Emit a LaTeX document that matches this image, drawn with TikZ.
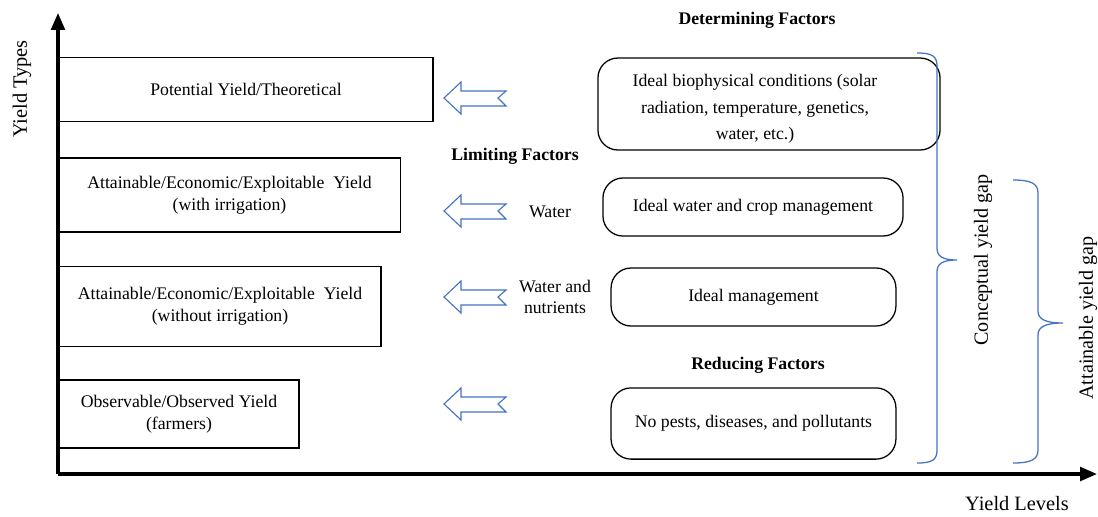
\documentclass[tikz,border=0pt]{standalone}
\usepackage{fontspec}
\setmainfont{Liberation Serif}
\usetikzlibrary{arrows.meta}

\definecolor{gapblue}{RGB}{68,114,196}

\begin{document}
\begin{tikzpicture}[x=0.025cm,y=-0.025cm,
  every node/.style={font=\fontsize{12.6}{15.5}\selectfont,align=center},
  yieldbox/.style={draw,line width=0.8pt,inner sep=0pt},
  factorbox/.style={draw,rounded corners=0.5cm,line width=0.9pt,inner sep=0pt},
  head/.style={font=\fontsize{12.6}{15.5}\selectfont\bfseries},
  axislabel/.style={font=\fontsize{14.5}{17}\selectfont},
  gaplabel/.style={rotate=90,font=\fontsize{14.3}{17}\selectfont},
  gap/.style={draw=gapblue,line width=0.9pt},
  hollow/.pic={\draw[gapblue,line width=0.8pt,line join=miter]
    (0,0) -- (17,-16) -- (17,-7) -- (62,-7) -- (54,0) -- (62,8) -- (17,8) -- (17,16) -- cycle;},
]
\useasboundingbox (0,0) rectangle (1098,516);
% axes
\coordinate (o) at (58,474); \coordinate (ytop) at (58,13); \coordinate (xend) at (1097,474);
\draw[line width=2.2pt,-{Triangle[length=0.42cm,width=0.34cm]}] (o) -- (ytop);
\draw[line width=2.2pt,-{Triangle[length=0.42cm,width=0.34cm]}] (o) -- (xend);
\node[axislabel,rotate=90] (types) at (22,89) {Yield Types};
\node[axislabel] (levels) at (1017,504) {Yield Levels};
% yield types
\node[yieldbox,minimum width=9.35cm,minimum height=1.58cm] (pot) at (246,89.5) {Potential Yield/Theoretical};
\node[yieldbox,minimum width=8.53cm,minimum height=1.85cm] (irr) at (229.5,195) {Attainable/Economic/Exploitable~ Yield\\(with irrigation)};
\node[yieldbox,minimum width=8.05cm,minimum height=1.98cm] (rain) at (220,306.5) {Attainable/Economic/Exploitable~ Yield\\(without irrigation)};
\node[yieldbox,minimum width=6cm,minimum height=1.7cm] (obs) at (179,414) {Observable/Observed Yield\\(farmers)};
% arrows
\pic at (444,98) {hollow};
\pic at (444,211) {hollow};
\pic at (444,297) {hollow};
\pic at (444,404) {hollow};
% factors
\node[head] (det) at (757,20) {Determining Factors};
\node[head] (lim) at (515,156) {Limiting Factors};
\node[head] (red) at (758,365) {Reducing Factors};
\node (wat) at (550,212) {Water};
\node (nut) at (555,297) {Water and\\nutrients};
\node[factorbox,minimum width=8.55cm,minimum height=2.3cm] (ideal) at (769,104) {};
\node[font=\fontsize{12.6}{19}\selectfont] (idealtxt) at (755,109) {Ideal biophysical conditions (solar\\radiation, temperature, genetics,\\water, etc.)};
\node[factorbox,minimum width=7.5cm,minimum height=1.45cm] (crop) at (753,207) {Ideal water and crop management};
\node[factorbox,minimum width=7.12cm,minimum height=1.45cm] (mgmt) at (753.5,297) {Ideal management};
\node[factorbox,minimum width=7.12cm,minimum height=1.78cm] (pests) at (753.5,423.5) {No pests, diseases, and pollutants};
% gaps
\draw[gap] (917,53) .. controls (932,53) and (937,56) .. (937,66) -- (937,248)
  .. controls (937,256) and (942,260) .. (957,260) .. controls (942,260) and (937,264) .. (937,272)
  -- (937,450) .. controls (937,460) and (932,463) .. (917,463);
\draw[gap] (1013,180) .. controls (1030,180) and (1038,183) .. (1038,193) -- (1038,311)
  .. controls (1038,319) and (1045,323) .. (1063,323) .. controls (1045,323) and (1038,327) .. (1038,335)
  -- (1038,450) .. controls (1038,460) and (1030,463) .. (1013,463);
\node[gaplabel] (cgap) at (983,260) {Conceptual yield gap};
\node[gaplabel] (agap) at (1088,318) {Attainable yield gap};
\end{tikzpicture}
\end{document}
